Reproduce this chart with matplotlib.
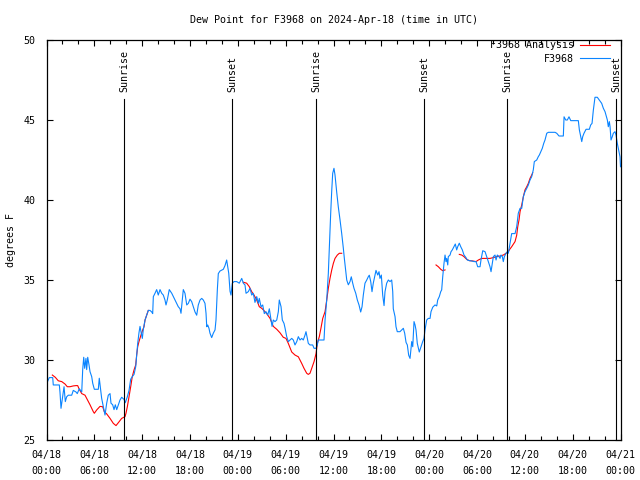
import numpy as np
import matplotlib
matplotlib.use("Agg")
import matplotlib.pyplot as plt
from matplotlib.ticker import MultipleLocator, FixedLocator

# hours since 2024-04-18 00:00 UTC
obs_hours = [0.03, 0.35, 0.78, 0.85, 1.61, 1.69, 1.82, 2.03, 2.20, 2.36, 2.53, 2.73, 3.16, 3.36, 3.70, 3.86,
             4.11, 4.42, 4.54, 4.67, 4.79, 4.95, 5.04, 5.17, 5.33, 5.46, 5.67, 5.80, 6.00, 6.50, 6.62, 6.80,
             6.92, 7.13, 7.34, 7.55, 7.75, 7.97, 8.09, 8.30, 8.47, 8.63, 8.81, 9.01, 9.22, 9.43, 9.72, 9.88,
             10.14, 10.35, 10.56, 10.76, 10.98, 11.19, 11.31, 11.44, 11.60, 11.73, 11.85, 12.02, 12.14, 12.36,
             12.57, 12.77, 12.98, 13.20, 13.32, 13.40, 13.61, 13.82, 14.02, 14.24, 14.45, 14.65, 14.86, 14.99,
             15.15, 15.40, 15.71, 15.91, 16.12, 16.33, 16.53, 16.75, 16.87, 17.03, 17.16, 17.37, 17.59, 17.79,
             18.00, 18.21, 18.41, 18.63, 18.84, 19.04, 19.26, 19.47, 19.67, 19.88, 20.01, 20.10, 20.22, 20.38,
             20.51, 20.72, 20.92, 21.14, 21.26, 21.43, 21.55, 21.76, 22.18, 22.39, 22.60, 22.73, 22.86, 23.02,
             23.14, 23.31, 23.52, 23.86, 24.18, 24.49, 24.69, 24.90, 25.03, 25.31, 25.53, 25.74, 25.94, 26.15,
             26.37, 26.57, 26.69, 26.91, 27.12, 27.32, 27.53, 27.75, 27.95, 28.16, 28.29, 28.45, 28.66, 28.88,
             29.08, 29.20, 29.42, 29.58, 29.79, 29.92, 30.13, 30.33, 30.54, 30.76, 30.96, 31.17, 31.39, 31.59,
             31.80, 32.01, 32.21, 32.43, 32.55, 32.71, 32.84, 33.05, 33.39, 33.56, 33.81, 33.97, 34.09, 34.52,
             34.81, 34.94, 35.15, 35.35, 35.47, 35.65, 35.78, 35.90, 36.06, 36.19, 36.40, 36.60, 36.82, 37.03,
             37.23, 37.36, 37.53, 37.66, 37.86, 38.07, 38.23, 38.41, 38.57, 38.79, 38.99, 39.20, 39.41, 39.58,
             39.74, 39.95, 40.17, 40.37, 40.49, 40.67, 40.83, 40.99, 41.17, 41.33, 41.55, 41.71, 41.83, 42.00,
             42.17, 42.34, 42.46, 42.67, 42.88, 43.09, 43.30, 43.43, 43.50, 43.72, 43.84, 44.00, 44.34, 44.56,
             44.76, 44.93, 45.10, 45.26, 45.43, 45.60, 45.81, 45.94, 46.10, 46.23, 46.35, 46.51, 46.76, 46.98,
             47.19, 47.35, 47.48, 47.69, 47.89, 48.11, 48.23, 48.45, 48.73, 48.95, 49.07, 49.27, 49.45, 49.57,
             49.70, 49.86, 49.99, 50.11, 50.20, 50.33, 50.40, 50.62, 50.74, 50.90, 51.12, 51.28, 51.45, 51.58,
             51.78, 51.96, 52.16, 52.37, 52.59, 52.79, 53.04, 53.34, 53.63, 53.88, 54.09, 54.38, 54.50, 54.72,
             55.01, 55.22, 55.42, 55.63, 55.76, 55.92, 56.05, 56.26, 56.39, 56.55, 56.76, 56.89, 57.01, 57.18,
             57.30, 57.43, 57.64, 57.80, 57.93, 58.14, 58.35, 58.77, 58.98, 59.18, 59.40, 59.61, 59.81, 60.02,
             60.24, 60.44, 60.65, 60.86, 61.06, 61.19, 61.49, 61.69, 61.82, 61.99, 62.19, 62.37, 62.53, 62.75,
             62.95, 63.79, 64.00, 64.29, 64.83, 64.92, 65.13, 65.33, 65.54, 65.76, 66.71, 66.84, 67.01, 67.14,
             67.26, 67.42, 67.68, 68.09, 68.26, 68.43, 68.59, 68.80, 69.09, 69.34, 69.64, 69.85, 70.06, 70.18,
             70.35, 70.47, 70.60, 70.69, 70.81, 70.97, 71.10, 71.31, 71.44, 71.60, 71.73, 71.94, 72.00]
obs_dewpt = [28.54, 28.9, 28.9, 28.44, 28.44, 28.0, 26.98, 27.7, 28.33, 27.4, 27.7, 27.8, 27.8, 28.1, 28.0, 27.9,
             28.2, 28.0, 29.4, 30.17, 29.48, 30.1, 29.4, 30.17, 29.7, 29.27, 28.96, 28.54, 28.17, 28.17, 28.86, 28.1,
             27.6, 27.08, 26.56, 27.3, 27.8, 27.9, 27.3, 27.2, 26.9, 27.2, 26.9, 27.2, 27.5, 27.67, 27.54, 27.33,
             27.7, 28.1, 28.8, 28.96, 29.1, 29.58, 30.3, 31.04, 31.7, 32.1, 31.77, 31.35, 31.9, 32.5,
             32.8, 33.1, 33.1, 33.0, 32.9, 33.96, 34.17, 34.4, 34.06, 34.4, 34.17, 34.06, 33.75, 33.44,
             33.75, 34.4, 34.17, 33.96, 33.75, 33.54, 33.33, 33.2, 32.92, 33.75, 34.4, 34.17, 33.44, 33.54,
             33.8, 33.65, 33.33, 33.0, 32.8, 33.44, 33.75, 33.85, 33.75, 33.54, 32.92, 32.08, 32.19, 31.98,
             31.67, 31.4, 31.67, 31.88, 32.5, 34.4, 35.4, 35.56, 35.67, 35.9, 36.25, 35.83, 35.42, 34.3,
             34.06, 34.8, 34.9, 34.9, 34.8, 35.1, 34.8, 34.69, 34.17, 34.27, 34.48, 34.06, 34.17, 33.6,
             33.96, 33.54, 33.85, 33.33, 33.44, 32.9, 33.02, 32.81, 33.2, 32.5, 32.1, 32.5, 32.4, 32.5,
             33.02, 33.75, 33.33, 32.5, 32.29, 32.0, 31.46, 31.15, 31.25, 31.35, 31.25, 30.94, 31.15, 31.46,
             31.25, 31.35, 31.25, 31.56, 31.77, 31.35, 31.04, 30.94, 30.94, 30.73, 30.73, 30.94, 31.25, 31.25,
             31.25, 32.5, 33.75, 35.4, 36.9, 39.2, 40.6, 41.67, 41.98, 41.56, 40.5, 39.58, 38.75, 37.9,
             37.0, 36.35, 35.6, 35.0, 34.7, 34.9, 35.2, 34.8, 34.48, 34.17, 33.75, 33.44, 33.0, 33.33,
             34.06, 34.8, 35.0, 35.21, 35.3, 34.9, 34.27, 34.8, 35.21, 35.6, 35.31, 35.52, 35.1, 35.31,
             34.06, 33.4, 34.27, 34.8, 35.0, 34.9, 35.0, 34.27, 33.2, 32.71, 32.08, 31.77, 31.77, 31.88,
             31.98, 31.67, 31.1, 30.94, 30.3, 30.1, 31.15, 30.83, 32.4, 32.19, 31.88, 31.04, 30.5, 30.83,
             31.15, 31.35, 31.88, 32.5, 32.6, 32.6, 33.02, 33.3, 33.44, 33.38, 33.75, 33.96, 34.27, 34.38,
             35.2, 36.04, 36.56, 36.15, 36.35, 35.94, 36.46, 36.56, 36.77, 36.88, 37.1, 37.25, 36.88, 37.08,
             37.3, 37.08, 36.88, 36.56, 36.42, 36.25, 36.21, 36.19, 36.15, 36.15, 35.83, 35.83, 36.25, 36.83,
             36.77, 36.46, 36.15, 35.83, 35.52, 36.04, 36.46, 36.56, 36.25, 36.56, 36.46, 36.35, 36.56, 36.46,
             36.15, 36.46, 36.67, 36.77, 36.67, 37.3, 37.9, 37.9, 38.33, 39.17, 39.48, 39.48, 40.2, 40.52,
             40.73, 40.94, 41.25, 41.46, 41.88, 42.4, 42.5, 42.71, 42.81, 43.0, 43.23, 43.54, 43.75, 44.17,
             44.23, 44.23, 44.17, 44.0, 44.0, 45.2, 45.0, 45.0, 45.2, 44.96, 44.96, 44.38, 43.96, 43.65,
             43.96, 44.17, 44.42, 44.42, 44.69, 44.79, 45.6, 46.42, 46.42, 46.25, 46.04, 45.73, 45.52, 45.31,
             45.0, 44.58, 44.9, 44.58, 43.75, 43.96, 44.17, 44.27, 44.06, 43.54, 43.23, 42.7, 42.08]

# analysis series (NaN marks gaps)
ana_hours = [0.73, 1.10, 1.48, 1.91, 2.32, 2.61, 2.95, 3.36, 3.70, 3.91, 4.11, 4.42, 4.83, 5.04, 5.46, 5.87,
             6.00, 6.30, 6.71, 7.05, 7.25, 7.55, 7.97, 8.38, 8.72, 9.01, 9.43, 9.85, 9.97, 10.14, 10.35, 10.56,
             10.76, 10.98, 11.19, 11.31, 11.44, 11.60, 11.85, 12.07, 12.23, 12.36, 12.57, 12.77, 18.0,
             24.69, 25.11, 25.44, 25.74, 26.03, 26.37, 26.69, 27.00, 27.20, 27.62, 28.04, 28.45, 28.88, 29.29,
             29.70, 30.04, 30.33, 30.76, 31.17, 31.59, 32.01, 32.30, 32.64, 32.84, 33.05, 33.27, 33.56, 33.81,
             33.97, 34.22, 34.43, 34.65, 34.94, 35.15, 35.35, 35.56, 35.78, 35.98, 36.19, 36.48, 36.73, 37.03,
             42.0,
             48.86, 49.15, 49.45, 49.70, 49.99, 51.0,
             51.78, 52.08, 52.37, 52.71, 53.04, 53.46, 53.88, 54.17, 54.59, 55.01, 55.63, 56.05, 56.47, 56.89,
             57.30, 57.73, 57.93, 58.05, 58.35, 58.77, 58.98, 59.11, 59.27, 59.40, 59.61, 59.81, 60.02, 60.24,
             60.44, 60.65, 60.86, 60.99]
ana_dewpt = [29.06, 28.92, 28.7, 28.65, 28.5, 28.33, 28.33, 28.38, 28.4, 28.4, 28.17, 27.9, 27.8, 27.6, 27.2, 26.77,
             26.67, 26.88, 27.1, 27.08, 26.77, 26.63, 26.35, 26.04, 25.9, 26.08, 26.35, 26.46, 26.67, 27.08, 27.7, 28.33,
             28.96, 29.38, 29.69, 30.31, 30.83, 31.15, 31.56, 31.88, 32.08, 32.5, 32.81, 33.1, np.nan,
             34.86, 34.8, 34.58, 34.27, 34.06, 33.75, 33.33, 33.23, 33.13, 32.9, 32.6, 32.1, 31.92, 31.7,
             31.42, 31.35, 31.04, 30.5, 30.31, 30.2, 29.79, 29.48, 29.17, 29.1, 29.17, 29.48, 29.9, 30.4,
             31.04, 31.46, 32.0, 32.6, 33.02, 33.75, 34.48, 35.1, 35.63, 36.04, 36.35, 36.56, 36.67, 36.67,
             np.nan,
             35.94, 35.83, 35.67, 35.58, 35.63, np.nan,
             36.6, 36.56, 36.46, 36.29, 36.21, 36.19, 36.15, 36.25, 36.35, 36.35, 36.35, 36.4, 36.46, 36.5,
             36.56, 36.7, 36.77, 36.88, 37.08, 37.4, 37.8, 38.33, 38.75, 39.27, 39.69, 40.2, 40.63, 40.83,
             41.04, 41.35, 41.56, 41.7]

sun_hours = [9.76, 23.30, 33.84, 47.38, 57.80, 71.47]
sun_labels = ["Sunrise", "Sunset", "Sunrise", "Sunset", "Sunrise", "Sunset"]

xtick_hours = [0, 6, 12, 18, 24, 30, 36, 42, 48, 54, 60, 66, 72]
xtick_labels = ["04/18\n00:00", "04/18\n06:00", "04/18\n12:00", "04/18\n18:00",
                "04/19\n00:00", "04/19\n06:00", "04/19\n12:00", "04/19\n18:00",
                "04/20\n00:00", "04/20\n06:00", "04/20\n12:00", "04/20\n18:00",
                "04/21\n00:00"]
ytick_values = [25, 30, 35, 40, 45, 50]

plt.rcParams['font.family'] = ['DejaVu Sans Mono']
FS = 7.2

fig = plt.figure(figsize=(6.4, 4.8), dpi=100)
ax = fig.add_axes([46.5 / 640, 40 / 480, 574 / 640, 400 / 480])

ax.plot(ana_hours, ana_dewpt, color='#ff0000', lw=0.8, label='F3968 Analysis')
ax.plot(obs_hours, obs_dewpt, color='#0a84ff', lw=0.8, label='F3968')

for h, lab in zip(sun_hours, sun_labels):
    ax.plot([h, h], [25, 46.3], color='black', lw=0.8)
    ax.text(h, 46.75, lab, rotation=90, ha='center', va='bottom', fontsize=FS)

ax.set_xlim(0, 72)
ax.set_ylim(25, 50)
ax.xaxis.set_major_locator(FixedLocator(xtick_hours))
ax.set_xticklabels(xtick_labels, fontsize=FS, linespacing=1.75)
ax.xaxis.set_minor_locator(MultipleLocator(2))
ax.yaxis.set_major_locator(FixedLocator(ytick_values))
ax.set_yticklabels([str(v) for v in ytick_values], fontsize=FS)
ax.tick_params(which='both', direction='in', top=True, right=True, width=0.8)
ax.tick_params(which='major', length=4)
ax.tick_params(which='minor', length=3)
ax.tick_params(axis='x', pad=7)
ax.tick_params(axis='y', pad=8)
for s in ax.spines.values():
    s.set_linewidth(0.9)

ax.set_ylabel('degrees F', fontsize=FS, labelpad=5)
ax.set_title('Dew Point for F3968 on 2024-Apr-18 (time in UTC)', fontsize=FS, pad=12)

leg = ax.legend(loc='upper right', bbox_to_anchor=(0.985, 1.005), frameon=False, markerfirst=False,
                fontsize=FS, handlelength=3.0, handletextpad=0.6, labelspacing=0.35,
                borderaxespad=0.0, borderpad=0.2)

fig.savefig('out.png', dpi=100)
